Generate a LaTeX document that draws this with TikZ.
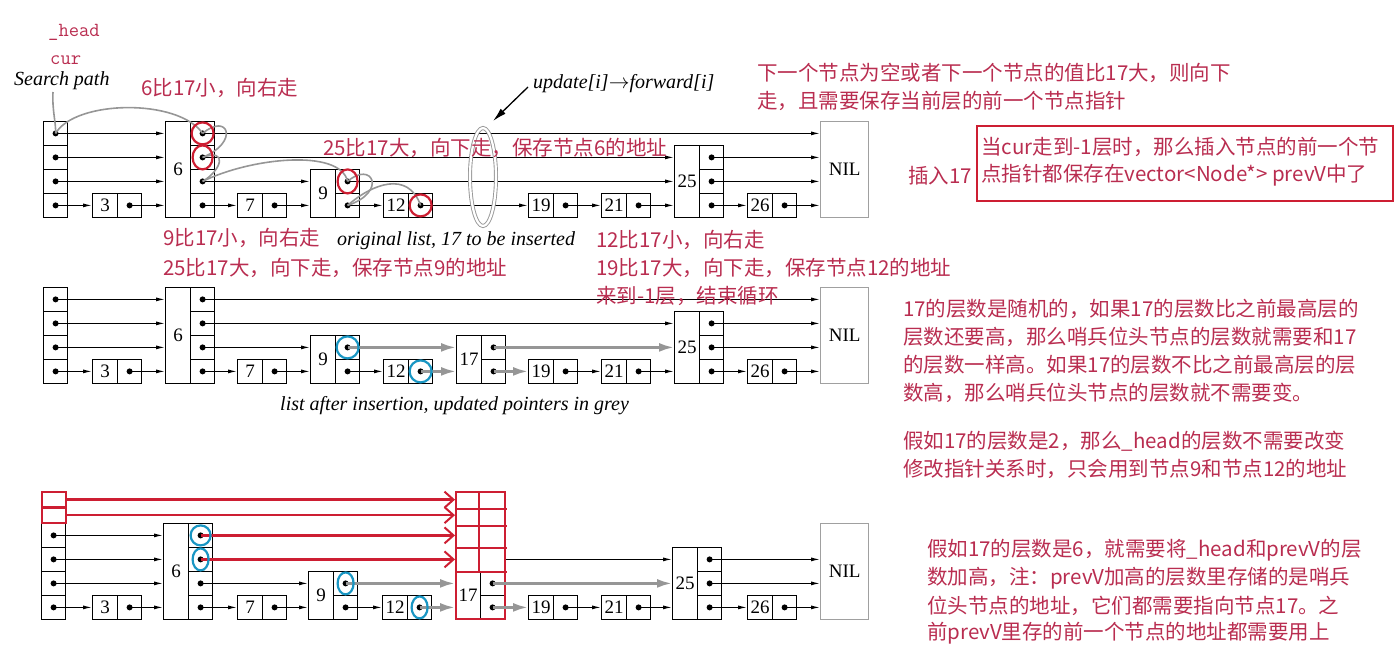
\documentclass[tikz,border=0pt]{standalone}
\usepackage{fontspec}
\setmainfont{Liberation Serif}
\newfontfamily\cjk{Noto Sans CJK SC}
\usetikzlibrary{arrows.meta,shapes.geometric,calc}
\definecolor{txtred}{RGB}{185,45,80}
\definecolor{cred}{RGB}{205,30,50}
\definecolor{cblue}{RGB}{25,150,195}
\definecolor{pgray}{RGB}{150,150,150}
\definecolor{nilgray}{RGB}{160,160,160}
\tikzset{
  keybox/.style={draw, line width=1.2pt, minimum width=25pt, inner sep=0pt, font=\fontsize{19}{19}\selectfont, anchor=south west},
  cell/.style={draw, line width=1.2pt, minimum width=24pt, minimum height=24pt, inner sep=0pt, anchor=south west},
  nilbox/.style={draw=nilgray, line width=1.4pt, minimum width=48pt, minimum height=96pt, inner sep=0pt, anchor=south west, font=\fontsize{19}{19}\selectfont},
  ptr/.style={line width=1.1pt, -{Latex[length=9pt,width=4pt]}},
  gptr/.style={line width=2.6pt, draw=pgray, -{Latex[length=15pt,width=9pt]}},
  rptr/.style={line width=2.4pt, draw=cred, -{Straight Barb[length=9pt,width=16pt,line width=2pt]}},
  search/.style={draw=pgray, line width=1.6pt},
  rcirc/.style={draw=cred, line width=2.2pt},
  bcirc/.style={draw=cblue, line width=2.2pt},
  rline/.style={draw=cred, line width=2.3pt},
  rt/.style={font=\cjk\fontsize{20.5}{24}\selectfont, text=txtred, inner sep=0pt, anchor=west},
  itx/.style={font=\itshape\fontsize{20}{24}\selectfont, inner sep=0pt, anchor=west},
  mono/.style={font=\ttfamily\fontsize{20}{22}\selectfont, text=txtred, inner sep=0pt, anchor=west}
}
\newcommand\keynode[5]{%
  \node[keybox, minimum height={#4*24pt}] (#1) at (#2,#3) {#5};
  \foreach \i in {1,...,#4}{\node[cell] (#1-\i) at ({#2+25},{#3-(\i-1)*24}) {};}%
}
\newcommand\headnode[4]{%
  \foreach \i in {1,...,#4}{\node[cell] (#1-\i) at (#2,{#3-(\i-1)*24}) {};}%
}
\begin{document}
\begin{tikzpicture}[x=1pt,y=-1pt]
\useasboundingbox (0,0) rectangle (1400,661);

% ================= Diagram 1 =================
\headnode{ah}{43}{218}{4}
\keynode{a3}{92}{218}{1}{3}
\keynode{a6}{165}{218}{4}{6}
\keynode{a7}{237}{218}{1}{7}
\keynode{a9}{310}{218}{2}{9}
\keynode{a12}{383}{218}{1}{12}
\keynode{a19}{528}{218}{1}{19}
\keynode{a21}{601}{218}{1}{21}
\keynode{a25}{674}{218}{3}{25}
\keynode{a26}{747}{218}{1}{26}
\node[nilbox] (anil) at (820,218) {NIL};
\foreach \n in {ah-1,ah-2,ah-3,ah-4,a3-1,a6-1,a6-2,a6-3,a6-4,a7-1,a9-1,a9-2,a12-1,a19-1,a21-1,a25-1,a25-2,a25-3,a26-1}
  {\fill (\n.center) circle (3pt);}
\foreach \f/\t in {h-4/6,h-3/6,h-2/6,h-1/3,3-1/6,6-4/nil,6-3/25,6-2/9,6-1/7,7-1/9,9-2/25,9-1/12,12-1/19,19-1/21,21-1/25,25-3/nil,25-2/nil,25-1/26,26-1/nil}
  {\draw[ptr] (a\f.center) -- (a\t.west |- a\f.center);}

% search path
\node[mono] (lhead) at (48,32) {\_head};
\node[mono] (lcur) at (50,60) {cur};
\node[itx] (sp) at (14,81) {Search path};
\coordinate (spstart) at (53,92);
\draw[search] (spstart) .. controls (52,110) and (56,122) .. (ah-4.center);
\draw[search] (ah-4.center) .. controls (75,100) and (178,98) .. (a6-4.center);
\draw[search] (a6-4.center) .. controls (228,112) and (240,142) .. (a6-3.center);
\draw[search] (a6-3.center) .. controls (228,148) and (222,170) .. (a6-2.center);
\draw[search] (a6-2.center) .. controls (250,158) and (340,148) .. (a9-2.center);
\draw[search] (a9-2.center) .. controls (372,160) and (388,192) .. (a9-1.center);
\draw[search] (a9-1.center) .. controls (372,184) and (408,170) .. (a12-1.center);

\draw[rcirc] (a6-4.center) circle (11pt);
\draw[rcirc] (a6-3.center) ellipse (10pt and 12pt);
\draw[rcirc] (a9-2.center) ellipse (10pt and 12pt);
\draw[rcirc] (a12-1.center) circle (11pt);

% update ellipse
\node[draw=pgray, double=white, double distance=2.2pt, line width=0.9pt, ellipse, minimum width=26pt, minimum height=98pt, inner sep=0pt] (ell) at (483,177) {};
\node[itx] (upd) at (533,84) {update[\textit{i}]$\rightarrow$forward[\textit{i}]};
\coordinate (updtip) at (493,121);
\draw[line width=1.3pt, -{Latex[length=14pt,width=7pt]}] ($(upd.west)+(-5,3)$) -- (updtip);

% labels diagram 1
\node[rt] (t1) at (141,88) {6比17小，向右走};
\node[rt] (t2) at (323,148) {25比17大，向下走，保存节点6的地址};
\node[rt] (t3) at (163,238) {9比17小，向右走};
\node[itx] (cap1) at (337,241) {original list, 17 to be inserted};
\node[rt] (t4) at (163,268) {25比17大，向下走，保存节点9的地址};
\node[rt] (t5) at (596,240) {12比17小，向右走};
\node[rt] (t6) at (596,268) {19比17大，向下走，保存节点12的地址};

% ================= Diagram 2 =================
\headnode{bh}{43}{384}{4}
\keynode{b3}{92}{384}{1}{3}
\keynode{b6}{165}{384}{4}{6}
\keynode{b7}{237}{384}{1}{7}
\keynode{b9}{310}{384}{2}{9}
\keynode{b12}{383}{384}{1}{12}
\keynode{b17}{456}{384}{2}{17}
\keynode{b19}{528}{384}{1}{19}
\keynode{b21}{601}{384}{1}{21}
\keynode{b25}{674}{384}{3}{25}
\keynode{b26}{747}{384}{1}{26}
\node[nilbox] (bnil) at (820,384) {NIL};
\foreach \n in {bh-1,bh-2,bh-3,bh-4,b3-1,b6-1,b6-2,b6-3,b6-4,b7-1,b9-1,b9-2,b12-1,b17-1,b17-2,b19-1,b21-1,b25-1,b25-2,b25-3,b26-1}
  {\fill (\n.center) circle (3pt);}
\foreach \f/\t in {h-4/6,h-3/6,h-2/6,h-1/3,3-1/6,6-4/nil,6-3/25,6-2/9,6-1/7,7-1/9,9-1/12,19-1/21,21-1/25,25-3/nil,25-2/nil,25-1/26,26-1/nil}
  {\draw[ptr] (b\f.center) -- (b\t.west |- b\f.center);}
\foreach \f/\t in {9-2/17,17-2/25,12-1/17,17-1/19}
  {\draw[gptr] (b\f.center) -- (b\t.west |- b\f.center);}
\draw[bcirc] (b9-2.center) circle (11pt);
\draw[bcirc] (b12-1.center) circle (11pt);
\node[rt] (t7) at (596,296) {来到-1层，结束循环};
\node[itx] (cap2) at (280,406) {list after insertion, updated pointers in grey};

% ================= Diagram 3 =================
\headnode{ch}{41}{620}{4}
\node[cell, draw=cred, line width=2.2pt, minimum height=15.5pt] (chr1) at (41,524) {};
\node[cell, draw=cred, line width=2.2pt, minimum height=15.5pt] (chr2) at (41,508.5) {};
\keynode{c3}{92}{620}{1}{3}
\keynode{c6}{163}{620}{4}{6}
\keynode{c7}{237}{620}{1}{7}
\keynode{c9}{308}{620}{2}{9}
\keynode{c12}{382}{620}{1}{12}
\keynode{c17}{455}{620}{2}{17}
\keynode{c19}{528}{620}{1}{19}
\keynode{c21}{601}{620}{1}{21}
\keynode{c25}{672}{620}{3}{25}
\keynode{c26}{747}{620}{1}{26}
\node[nilbox] (cnil) at (820,620) {NIL};
\node[draw=cred, line width=2.4pt, minimum width=49pt, minimum height=127pt, inner sep=0pt, anchor=south west] (c17f) at (455,620) {};
\draw[rline] (479,493) -- (479,572);
\foreach \yy in {509,526,548,572} {\draw[rline] (455,\yy) -- (507,\yy);}
\foreach \n in {ch-1,ch-2,ch-3,ch-4,c3-1,c6-1,c6-2,c6-3,c6-4,c7-1,c9-1,c9-2,c12-1,c17-1,c17-2,c19-1,c21-1,c25-1,c25-2,c25-3,c26-1}
  {\fill (\n.center) circle (3pt);}
\foreach \f/\t in {h-4/6,h-3/6,h-2/6,h-1/3,3-1/6,6-2/9,6-1/7,7-1/9,9-1/12,19-1/21,21-1/25,25-3/nil,25-2/nil,25-1/26,26-1/nil}
  {\draw[ptr] (c\f.center) -- (c\t.west |- c\f.center);}
\draw[ptr] (c17f.east |- c6-3.center) -- (c25.west |- c6-3.center);
\foreach \f/\t in {9-2/17,17-2/25,12-1/17,17-1/19}
  {\draw[gptr] (c\f.center) -- (c\t.west |- c\f.center);}
\draw[rptr] (chr2.east) -- (c17f.west |- chr2.east);
\draw[rptr] (chr1.east) -- (c17f.west |- chr1.east);
\draw[rptr] (c6-4.center) -- (c17f.west |- c6-4.center);
\draw[rptr] (c6-3.center) -- (c17f.west |- c6-3.center);
\draw[bcirc] (c6-4.center) circle (10pt);
\draw[bcirc] (c6-3.center) ellipse (8pt and 11pt);
\draw[bcirc] (c9-2.center) ellipse (8pt and 11pt);
\draw[bcirc] (c12-1.center) ellipse (8pt and 11pt);

% ================= right-hand texts =================
\node[rt] (r1) at (757,73) {下一个节点为空或者下一个节点的值比17大，则向下};
\node[rt] (r2) at (757,101) {走，且需要保存当前层的前一个节点指针};
\node[draw=cred, line width=2.2pt, minimum width=416pt, minimum height=75pt, inner sep=0pt, anchor=north west] (rbox) at (976,125) {};
\node[rt] (rb1) at (981,147) {当cur走到-1层时，那么插入节点的前一个节};
\node[rt] (rb2) at (981,175) {点指针都保存在vector<Node*> prevV中了};
\node[rt] (ins) at (908,176) {插入17};

\node[rt] (p1) at (903,309) {17的层数是随机的，如果17的层数比之前最高层的};
\node[rt] (p2) at (903,337) {层数还要高，那么哨兵位头节点的层数就需要和17};
\node[rt] (p3) at (903,365) {的层数一样高。如果17的层数不比之前最高层的层};
\node[rt] (p4) at (903,393) {数高，那么哨兵位头节点的层数就不需要变。};
\node[rt] (q1) at (903,441) {假如17的层数是2，那么\_head的层数不需要改变};
\node[rt] (q2) at (903,469) {修改指针关系时，只会用到节点9和节点12的地址};
\node[rt] (s1) at (927,550) {假如17的层数是6，就需要将\_head和prevV的层};
\node[rt] (s2) at (927,578) {数加高，注：prevV加高的层数里存储的是哨兵};
\node[rt] (s3) at (927,606) {位头节点的地址，它们都需要指向节点17。之};
\node[rt] (s4) at (927,633) {前prevV里存的前一个节点的地址都需要用上};
\end{tikzpicture}
\end{document}
